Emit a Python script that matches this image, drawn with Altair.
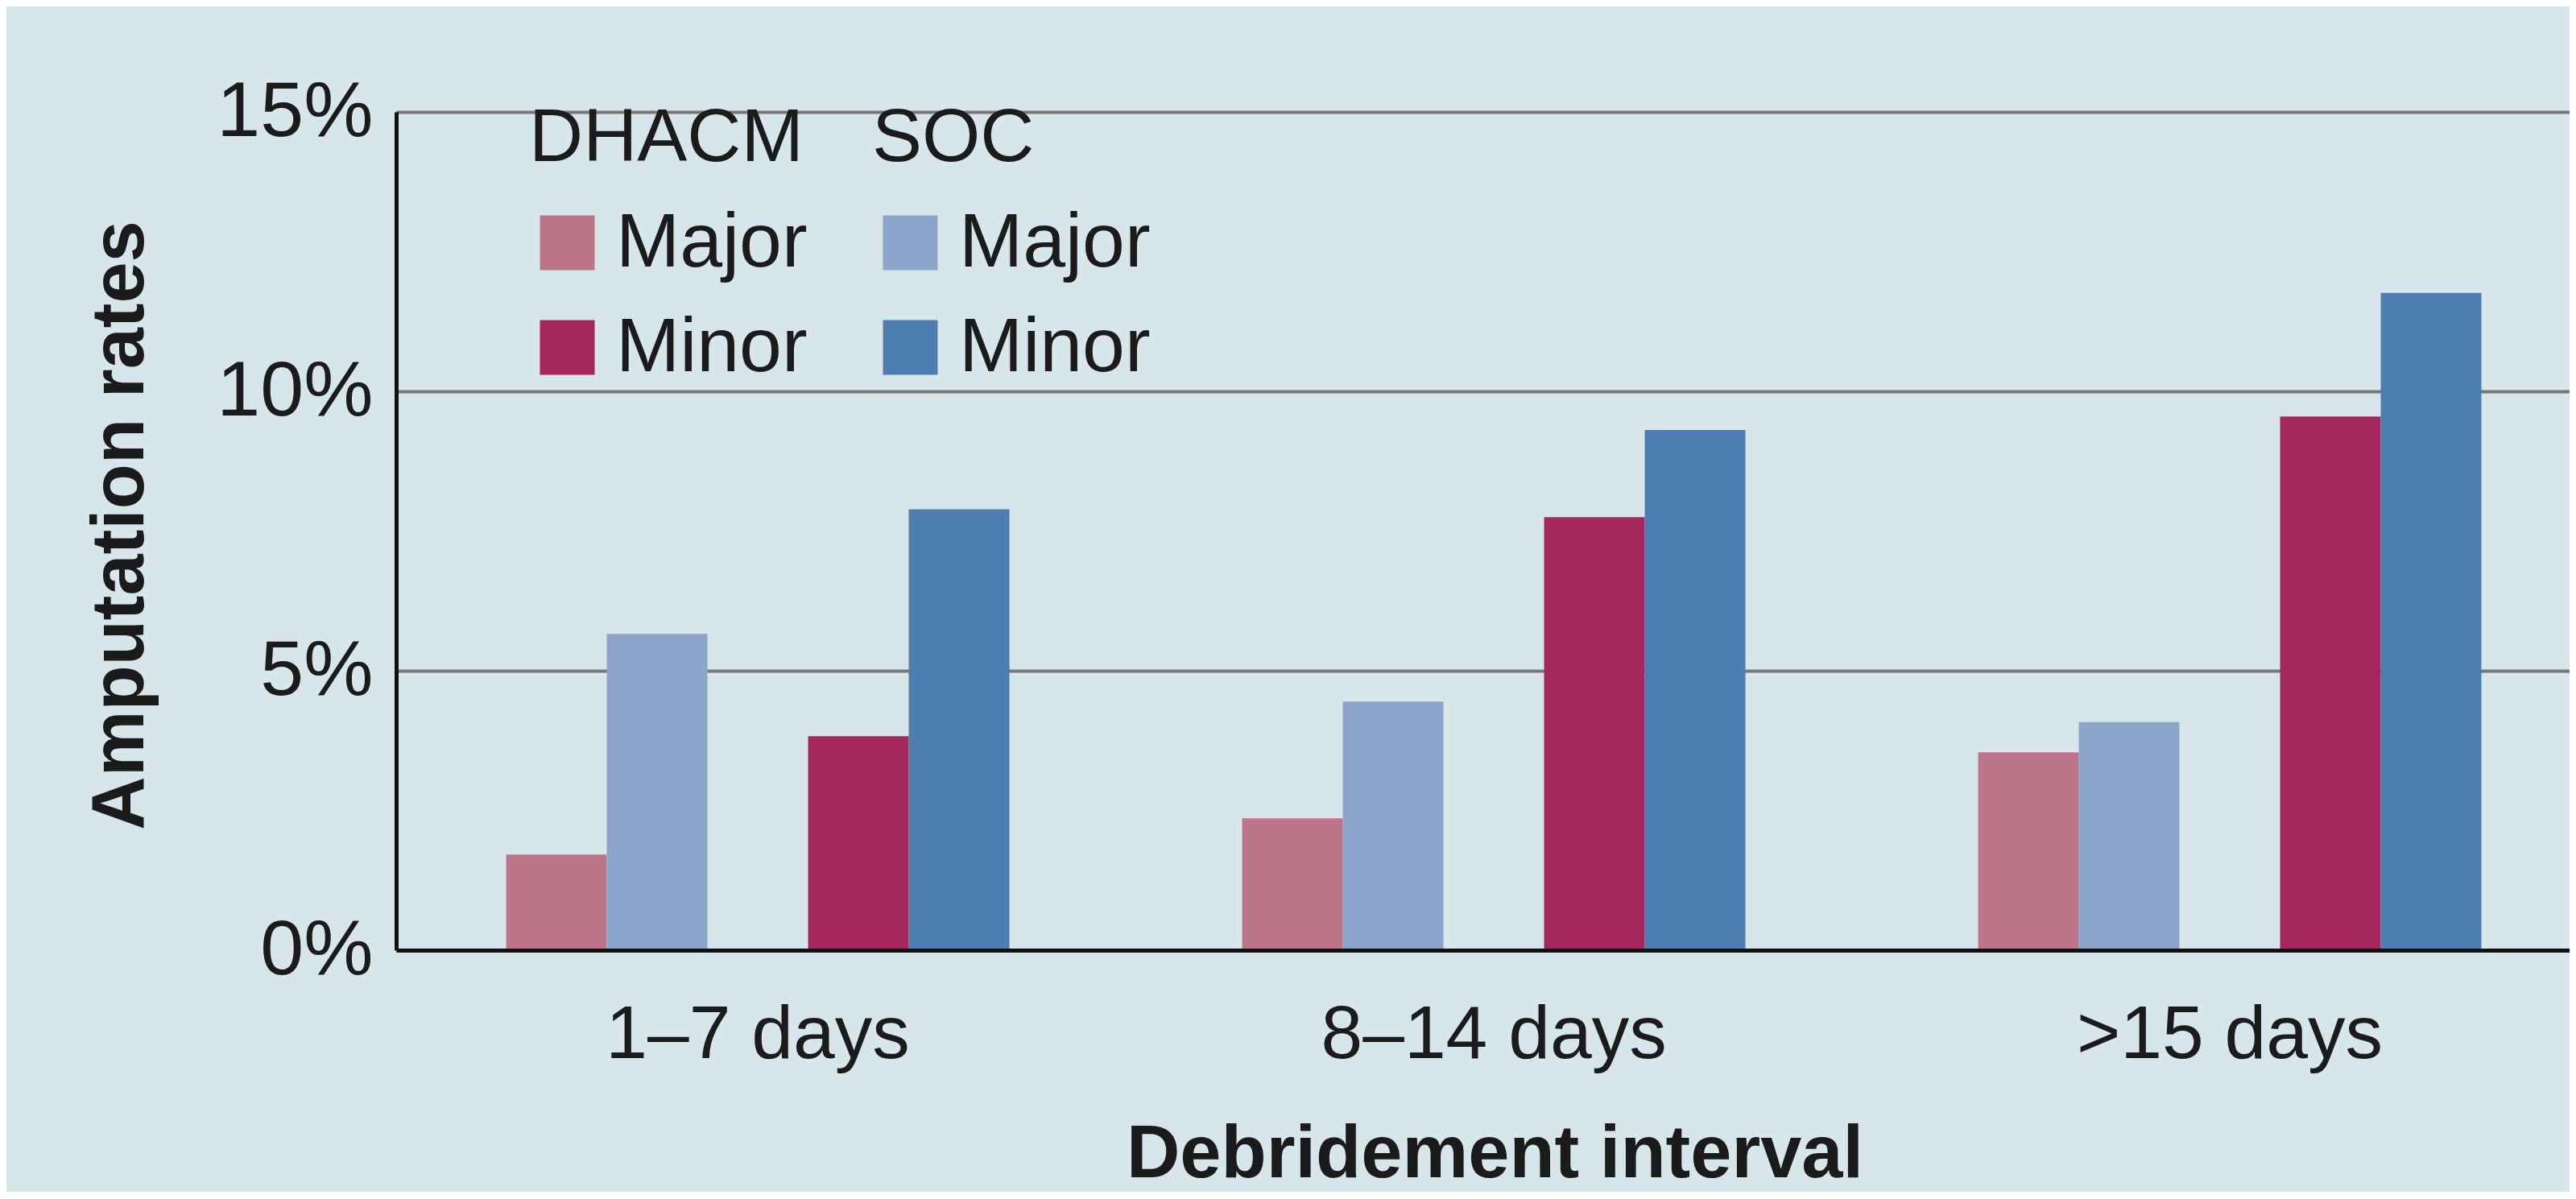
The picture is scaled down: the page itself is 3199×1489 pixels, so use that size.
import altair as alt
import pandas as pd

# ---- data ----
intervals = ["1–7 days", "8–14 days", ">15 days"]
dhacm_major = [1.71, 2.36, 3.54]
dhacm_minor = [3.83, 7.75, 9.55]
soc_major = [5.66, 4.45, 4.08]
soc_minor = [7.89, 9.31, 11.76]
kinds = ["Major", "Minor"]
slots = ["DHACM Major", "SOC Major", "gap", "DHACM Minor", "SOC Minor"]
y_ticks = [0, 5, 10, 15]

dhacm_colors = ["#bf7589", "#a4275b"]
soc_colors = ["#8ca6cb", "#4e7db1"]

rows = []
for i, iv in enumerate(intervals):
    rows.append(dict(interval=iv, group="DHACM", kind="Major", slot="DHACM Major", rate=dhacm_major[i]))
    rows.append(dict(interval=iv, group="SOC", kind="Major", slot="SOC Major", rate=soc_major[i]))
    rows.append(dict(interval=iv, group="DHACM", kind="Minor", slot="DHACM Minor", rate=dhacm_minor[i]))
    rows.append(dict(interval=iv, group="SOC", kind="Minor", slot="SOC Minor", rate=soc_minor[i]))
df = pd.DataFrame(rows)

FONT = "Liberation Sans"
INK = "#1b1b1b"

x_enc = alt.X(
    "interval:N",
    sort=intervals,
    scale=alt.Scale(paddingInner=0.3162, paddingOuter=0.1346, align=0.555),
    axis=alt.Axis(
        title="Debridement interval",
        labelAngle=0,
        ticks=False,
        tickSize=0,
        grid=False,
        labelPadding=133,
        labelBaseline="alphabetic",
        labelFontSize=93,
        labelFont=FONT,
        labelColor=INK,
        labelLimit=2000,
        titleFontSize=92,
        titleFont=FONT,
        titleFontWeight="bold",
        titleColor=INK,
        titleLimit=3000,
        titleX=1364,
        titleY=281,
        titleBaseline="alphabetic",
        titleAlign="center",
        domainColor="#111111",
        domainWidth=5,
        zindex=1,
    ),
)

y_enc = alt.Y(
    "rate:Q",
    scale=alt.Scale(domain=[0, 15], nice=False, zero=True),
    axis=alt.Axis(
        title="Amputation rates",
        values=y_ticks,
        labelExpr="datum.value + '%'",
        ticks=False,
        tickSize=0,
        labelPadding=29,
        labelFontSize=97,
        labelFont=FONT,
        labelColor=INK,
        labelLimit=2000,
        grid=True,
        gridColor="#777777",
        gridWidth=4,
        domainColor="#111111",
        domainWidth=5,
        titleFontSize=92,
        titleFont=FONT,
        titleFontWeight="bold",
        titleColor=INK,
        titleLimit=3000,
        titleX=-315,
        titleY=513,
        titleBaseline="alphabetic",
        titleAngle=270,
        titleAlign="center",
    ),
)

xoff_enc = alt.XOffset(
    "slot:N", sort=slots, scale=alt.Scale(domain=slots, paddingInner=0, paddingOuter=0)
)


def make_legend(title, lx):
    return alt.Legend(
        title=title,
        orient="none",
        legendX=lx,
        legendY=-12,
        padding=0,
        symbolType="square",
        symbolSize=4624,
        symbolStrokeWidth=0,
        labelFontSize=95,
        labelFont=FONT,
        labelColor=INK,
        labelOffset=13,
        labelLimit=2000,
        titleFontSize=93,
        titleFont=FONT,
        titleFontWeight="normal",
        titleColor=INK,
        titleLimit=2000,
        titlePadding=34,
        rowPadding=34,
    )


base = alt.Chart(df).encode(x=x_enc, xOffset=xoff_enc, y=y_enc)

dh = base.transform_filter(alt.datum.group == "DHACM").mark_bar().encode(
    color=alt.Color(
        "kind:N",
        scale=alt.Scale(domain=kinds, range=dhacm_colors),
        legend=make_legend("DHACM", 165),
    )
)
so = base.transform_filter(alt.datum.group == "SOC").mark_bar().encode(
    color=alt.Color(
        "kind:N",
        scale=alt.Scale(domain=kinds, range=soc_colors),
        legend=make_legend("SOC", 591),
    )
)

chart = (
    alt.layer(dh, so)
    .resolve_scale(color="independent")
    .properties(
        width=2699,
        height=1041,
        padding={"left": 484, "top": 131, "right": 0, "bottom": 300},
        autosize=alt.AutoSizeParams(type="none"),
        background="#d7e6eb",
    )
    .configure_view(stroke=None)
)

chart.save("out.html", embed_options={"renderer": "svg", "actions": False})
